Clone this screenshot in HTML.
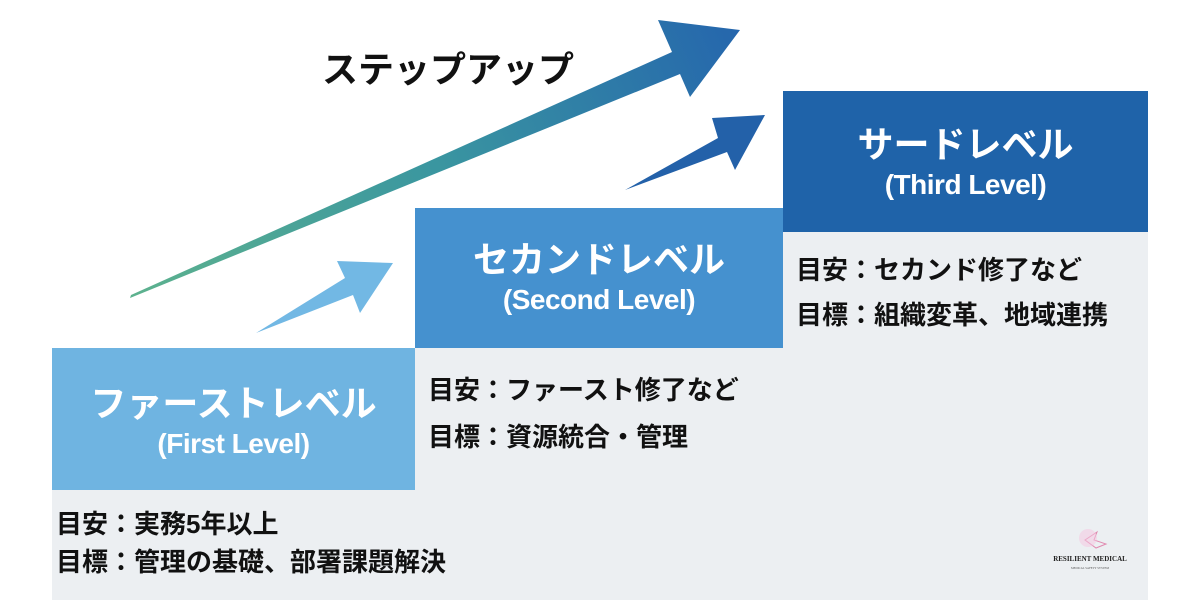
<!DOCTYPE html>
<html><head><meta charset="utf-8">
<style>
*{margin:0;padding:0;box-sizing:border-box}
body{width:1200px;height:600px;background:#fff;position:relative;overflow:hidden;font-family:"Liberation Sans","Noto Sans CJK JP",sans-serif}
.abs{position:absolute}
.box{position:absolute;color:#fff;text-align:center;font-weight:bold}
.t1{font-size:36px;line-height:40px}
.t2{font-size:28px;line-height:36px;letter-spacing:-0.5px}
.info{position:absolute;font-size:26px;font-weight:bold;color:#111;line-height:45px;white-space:nowrap}
</style></head><body>
<div class="abs" style="left:52px;top:490px;width:363px;height:110px;background:#eceff2"></div>
<div class="abs" style="left:415px;top:348px;width:368px;height:252px;background:#eceff2"></div>
<div class="abs" style="left:783px;top:232px;width:365px;height:368px;background:#eceff2"></div>

<div class="box" style="left:52px;top:348px;width:363px;height:142px;background:#6fb4e1">
 <div class="t1" style="margin-top:36px">ファーストレベル</div>
 <div class="t2" style="margin-top:2px">(First Level)</div>
</div>
<div class="box" style="left:415px;top:208px;width:368px;height:140px;background:#4591cf">
 <div class="t1" style="margin-top:32px">セカンドレベル</div>
 <div class="t2" style="margin-top:2px">(Second Level)</div>
</div>
<div class="box" style="left:783px;top:91px;width:365px;height:141px;background:#1f63a9">
 <div class="t1" style="margin-top:34px">サードレベル</div>
 <div class="t2" style="margin-top:2px">(Third Level)</div>
</div>

<div class="info" style="left:56px;top:505px;line-height:38px">目安：実務5年以上<br>目標：管理の基礎、部署課題解決</div>
<div class="info" style="left:428px;top:367px;line-height:47px">目安：ファースト修了など<br>目標：資源統合・管理</div>
<div class="info" style="left:796px;top:248px">目安：セカンド修了など<br>目標：組織変革、地域連携</div>

<div class="abs" style="left:322px;top:48px;font-size:36px;font-weight:bold;color:#111;line-height:44px">ステップアップ</div>

<svg class="abs" style="left:0;top:0" width="1200" height="600">
<defs><linearGradient id="g" x1="130" y1="297" x2="740" y2="30" gradientUnits="userSpaceOnUse">
<stop offset="0" stop-color="#5db28e"/><stop offset="0.5" stop-color="#3a96a0"/><stop offset="1" stop-color="#2566ad"/></linearGradient></defs>
<polygon fill="url(#g)" points="130,298 131,295 672,52 658,20 740,30 690,97 680,74"/>
<polygon fill="#72b8e4" points="256,333 345,278 337,261 393,263 360,313 353,295"/>
<polygon fill="#2361a9" points="625,190 718,138 712,118 765,115 735,170 727,152"/>
<path d="M1085,540 l12,-8 l-3,8 l12,4 l-10,4 z" fill="none" stroke="#e08ab0" stroke-width="1"/>
<circle cx="1088" cy="538" r="9" fill="#f6c6e0" opacity="0.5"/>
</svg>
<div class="abs" style="left:1052px;top:555px;width:76px;text-align:center;font-family:'Liberation Serif',serif;font-size:7px;font-weight:bold;color:#222">RESILIENT MEDICAL</div>
<div class="abs" style="left:1052px;top:566px;width:76px;text-align:center;font-family:'Liberation Serif',serif;font-size:3px;color:#555">MEDICAL SAFETY SYSTEM</div>
</body></html>
